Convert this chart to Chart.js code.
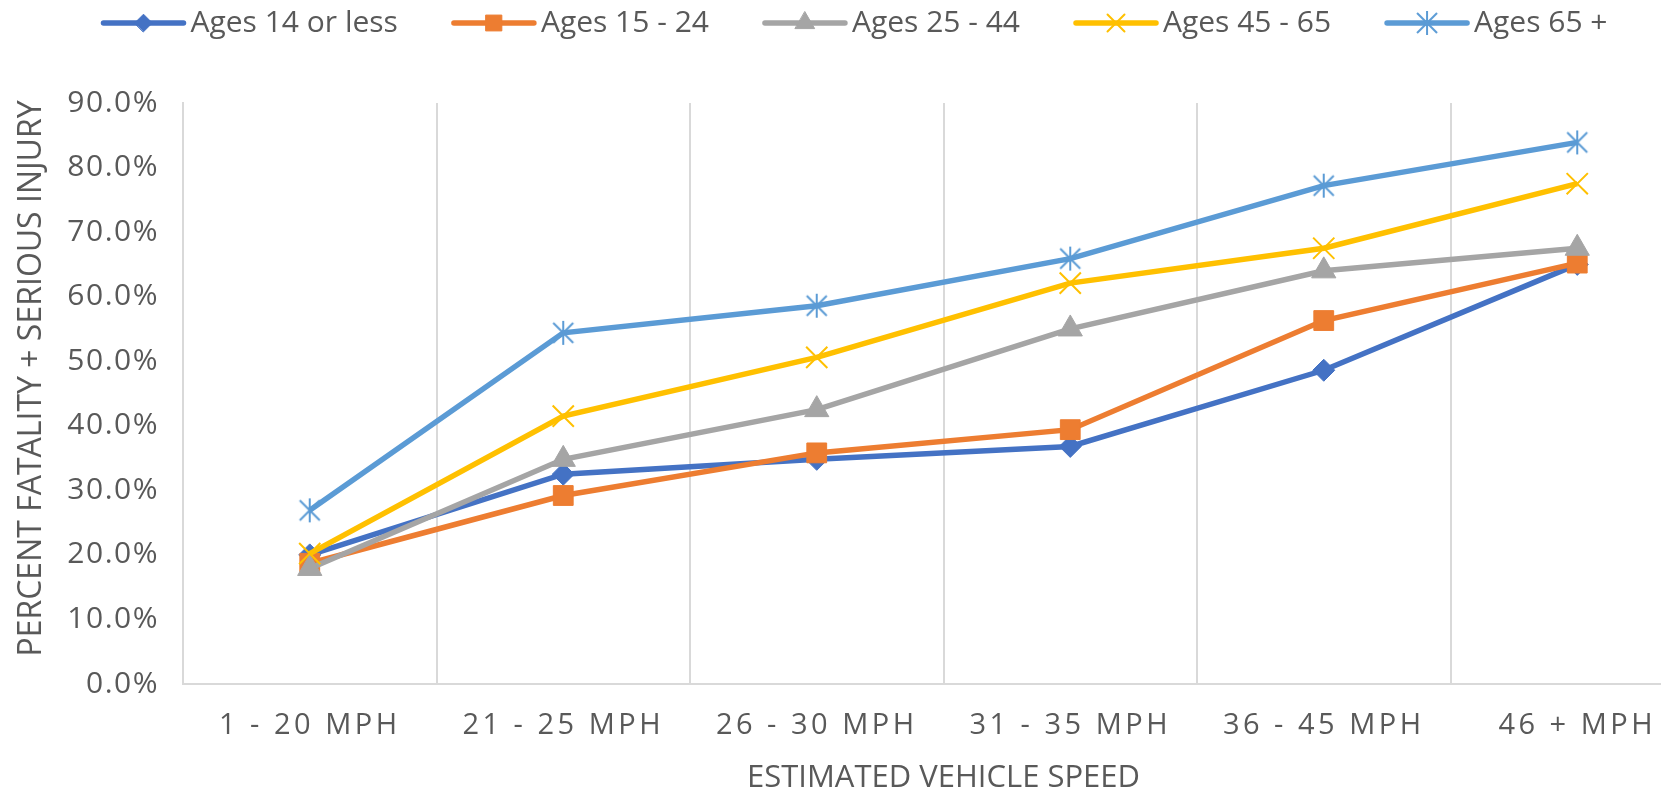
<!DOCTYPE html>
<html>
<head>
<meta charset="utf-8">
<script src="https://cdn.jsdelivr.net/npm/chart.js@4.4.1/dist/chart.umd.min.js"></script>
<style>
  html, body { margin: 0; padding: 0; background: #fff; overflow: hidden; }
  #wrap { width: 1721px; height: 791px; position: relative; }
</style>
</head>
<body>
<div id="wrap"><canvas id="speedChart"></canvas></div>
<script>
// categories
const speedBins = ['1 - 20 MPH', '21 - 25 MPH', '26 - 30 MPH', '31 - 35 MPH', '36 - 45 MPH', '46 + MPH'];

// percent fatality + serious injury, by age group
const ages14 = [20.0, 32.5, 34.8, 36.8, 48.6, 65.0];
const ages15 = [18.7, 29.2, 35.8, 39.4, 56.3, 65.2];
const ages25 = [17.9, 34.8, 42.5, 55.0, 64.0, 67.5];
const ages45 = [20.2, 41.5, 50.6, 62.1, 67.5, 77.5];
const ages65 = [26.9, 54.4, 58.6, 65.9, 77.2, 83.9];

const seriesNames = ['Ages 14 or less', 'Ages 15 - 24', 'Ages 25 - 44', 'Ages 45 - 65', 'Ages 65 +'];

const yMax = 90;
const yStep = 10;

const textColor = '#595959';
const gridColor = '#D9D9D9';
const fontName = "'Open Sans', sans-serif";

// excel style asterisk marker: an X with a vertical bar
function asterisk(color, size) {
    const c = document.createElement('canvas');
    c.width = size;
    c.height = size;
    const g = c.getContext('2d');
    const m = 3;
    g.strokeStyle = color;
    g.lineWidth = 2;
    g.beginPath();
    g.moveTo(m, m); g.lineTo(size - m, size - m);
    g.moveTo(size - m, m); g.lineTo(m, size - m);
    g.moveTo(size / 2, 1); g.lineTo(size / 2, size - 1);
    g.stroke();
    return c;
}

const styles = [
    { color: '#4472C4', point: 'rectRot', radius: 11, border: 1 },
    { color: '#ED7D31', point: 'rect', radius: 14, border: 1 },
    { color: '#A5A5A5', point: 'triangle', radius: 14, border: 1 },
    { color: '#FFC000', point: 'crossRot', radius: 15, border: 2 },
    { color: '#5B9BD5', point: asterisk('#5B9BD5', 26), radius: 13, border: 2 }
];

const seriesValues = [ages14, ages15, ages25, ages45, ages65];

const datasets = seriesValues.map((vals, i) => ({
    label: seriesNames[i],
    data: vals,
    borderColor: styles[i].color,
    backgroundColor: styles[i].color,
    borderWidth: 5.5,
    pointStyle: styles[i].point,
    pointRadius: styles[i].radius,
    pointHoverRadius: styles[i].radius,
    pointBorderWidth: styles[i].border,
    pointBorderColor: styles[i].color,
    pointBackgroundColor: styles[i].color,
    tension: 0,
    order: seriesValues.length - 1 - i
}));

const legendFont = 30;
const legendBox = 70;
const legendGap = 58;
const legendLine = 80;

// legend: line with marker, drawn next to the (transparent) legend box
const legendLines = {
    id: 'legendLines',
    beforeInit(chart) {
        const fit = chart.legend.fit;
        chart.legend.fit = function () {
            fit.bind(chart.legend)();
            this.height += 5;
        };
    },
    afterLayout(chart) {
        // the item gap also pads the legend vertically, pull the row back up
        const lg = chart.legend;
        lg.top -= legendGap - 8;
        lg.bottom -= legendGap - 8;
    },
    afterDraw(chart) {
        const legend = chart.legend;
        if (!legend || !legend.legendHitBoxes) return;
        const ctx = chart.ctx;
        legend.legendItems.forEach((item, k) => {
            const hb = legend.legendHitBoxes[k];
            const st = styles[item.datasetIndex];
            const y = hb.top + hb.height / 2;
            const x1 = hb.left + legendBox + legendFont / 2 - 7;
            const x0 = x1 - legendLine;
            ctx.save();
            ctx.strokeStyle = st.color;
            ctx.fillStyle = st.color;
            ctx.lineWidth = 5.5;
            ctx.lineCap = 'round';
            ctx.beginPath();
            ctx.moveTo(x0, y);
            ctx.lineTo(x1, y);
            ctx.stroke();
            ctx.lineWidth = st.border;
            Chart.helpers.drawPoint(ctx, {
                pointStyle: st.point,
                radius: st.radius * 0.8,
                borderWidth: st.border,
                rotation: 0
            }, (x0 + x1) / 2, y);
            ctx.restore();
        });
    }
};

// letter spaced tick labels, y title nudged up a little
const axisText = {
    id: 'axisText',
    beforeDraw(chart) {
        const xs = chart.scales.x;
        const ys = chart.scales.y;
        if (xs && !xs._patched) {
            const orig = xs.drawLabels.bind(xs);
            xs.drawLabels = function (area) {
                chart.ctx.save();
                chart.ctx.letterSpacing = '3.5px';
                orig(area);
                chart.ctx.restore();
            };
            xs._patched = true;
        }
        if (ys && !ys._patched) {
            const origL = ys.drawLabels.bind(ys);
            ys.drawLabels = function (area) {
                chart.ctx.save();
                chart.ctx.letterSpacing = '1.5px';
                origL(area);
                chart.ctx.restore();
            };
            const origT = ys.drawTitle.bind(ys);
            ys.drawTitle = function () {
                chart.ctx.save();
                chart.ctx.translate(0, -15);
                origT();
                chart.ctx.restore();
            };
            ys._patched = true;
        }
    }
};

new Chart(document.getElementById('speedChart'), {
    type: 'line',
    data: { labels: speedBins, datasets: datasets },
    plugins: [legendLines, axisText],
    options: {
        responsive: true,
        maintainAspectRatio: false,
        animation: false,
        layout: { padding: { left: 0, right: 8, top: 0, bottom: 0 } },
        plugins: {
            tooltip: { enabled: false },
            legend: {
                position: 'top',
                labels: {
                    color: textColor,
                    font: { family: fontName, size: legendFont },
                    boxWidth: legendBox,
                    boxHeight: 5,
                    padding: legendGap,
                    sort: (a, b) => a.datasetIndex - b.datasetIndex,
                    generateLabels(chart) {
                        const items = Chart.defaults.plugins.legend.labels.generateLabels(chart);
                        items.forEach(it => {
                            it.fillStyle = 'rgba(0,0,0,0)';
                            it.strokeStyle = 'rgba(0,0,0,0)';
                            it.lineWidth = 0;
                        });
                        return items;
                    }
                }
            }
        },
        scales: {
            x: {
                offset: true,
                afterFit: s => { s.height = 107; },
                grid: { display: true, offset: true, color: gridColor, lineWidth: 2, drawTicks: false },
                border: { display: true, color: gridColor, width: 2 },
                ticks: {
                    color: textColor,
                    font: { family: fontName, size: 29 },
                    padding: 24,
                    maxRotation: 0,
                    autoSkip: false
                },
                title: {
                    display: true,
                    text: 'ESTIMATED VEHICLE SPEED',
                    color: textColor,
                    font: { family: fontName, size: 31, lineHeight: 0.8 },
                    padding: 0
                }
            },
            y: {
                min: 0,
                max: yMax,
                afterFit: s => { s.width = 183; },
                grid: { display: false, drawTicks: false },
                border: { display: true, color: gridColor, width: 2 },
                ticks: {
                    stepSize: yStep,
                    color: textColor,
                    font: { family: fontName, size: 30 },
                    padding: 24,
                    callback: v => v.toFixed(1) + '%'
                },
                title: {
                    display: true,
                    text: 'PERCENT FATALITY + SERIOUS INJURY',
                    color: textColor,
                    font: { family: fontName, size: 32 },
                    padding: { top: 13, bottom: 13 }
                }
            }
        }
    }
});
</script>
</body>
</html>
